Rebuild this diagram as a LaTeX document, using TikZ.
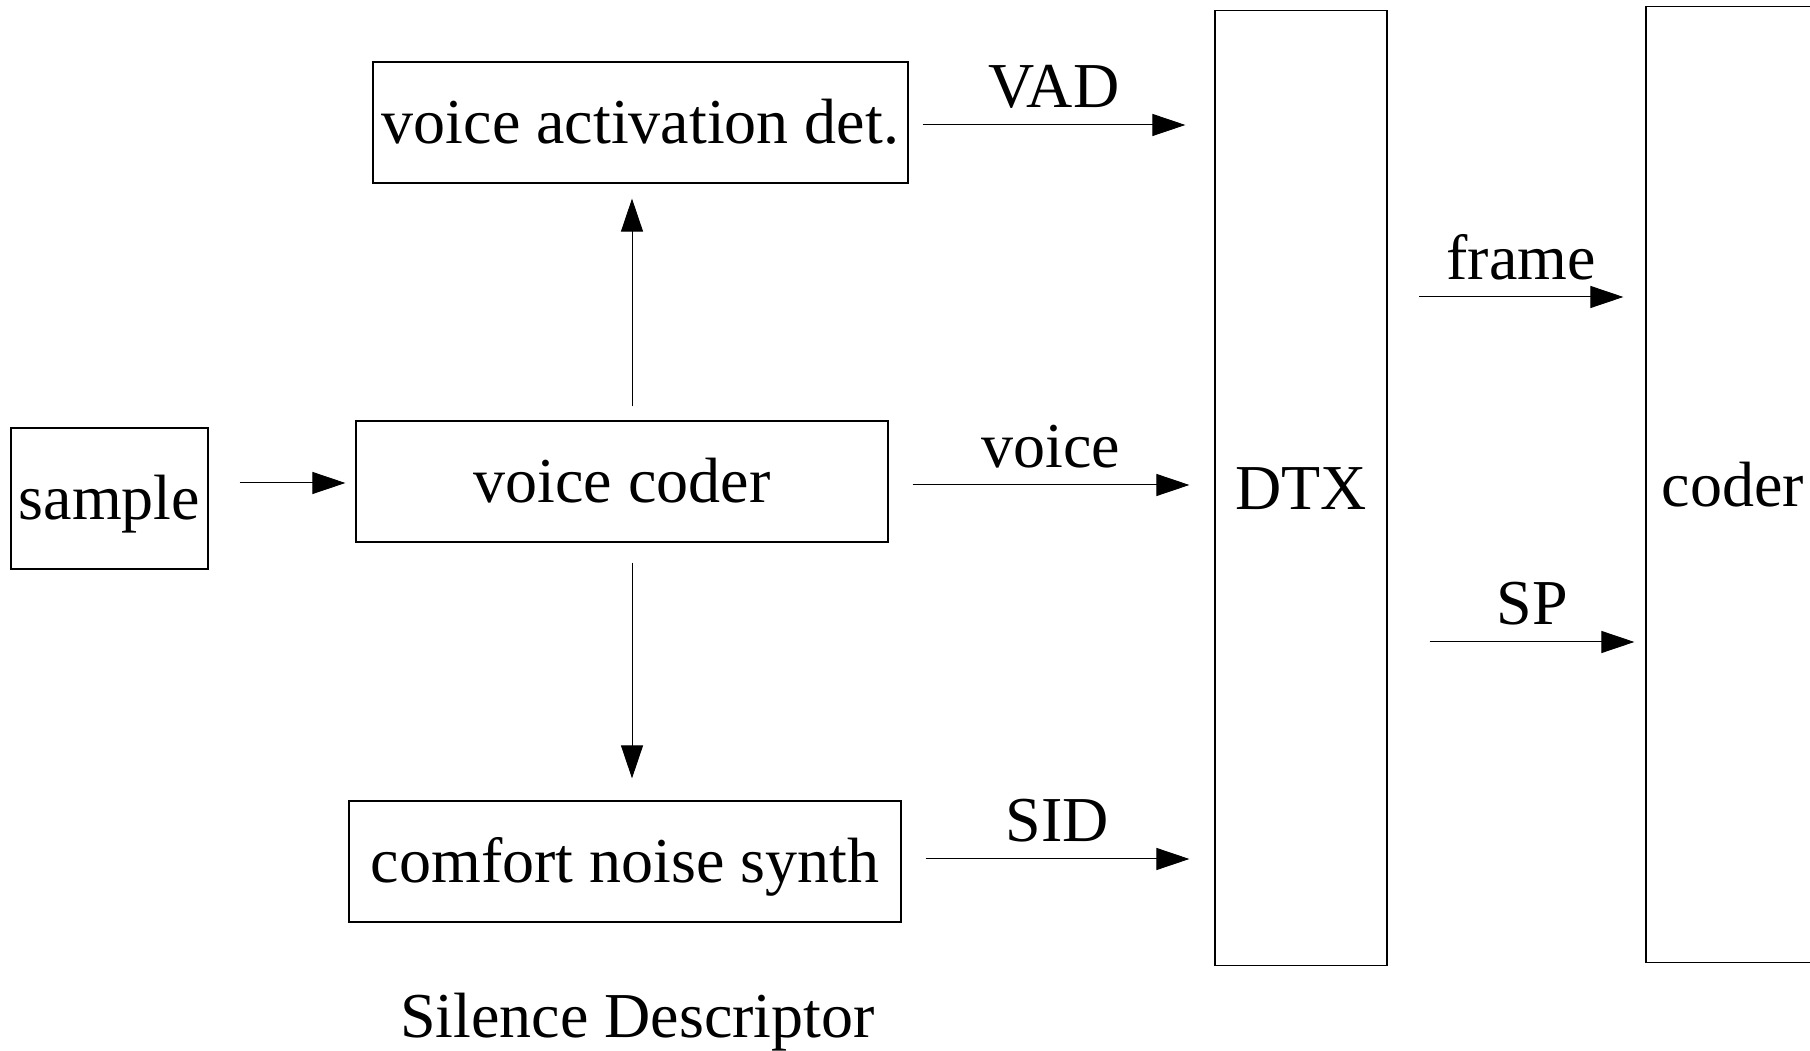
\documentclass[tikz,border=0pt]{standalone}
\usepackage{fontspec}
\setmainfont{Liberation Serif}
\usetikzlibrary{arrows.meta,calc}

\begin{document}
\begin{tikzpicture}[x=1pt,y=1pt,
  blockbox/.style={draw=black, line width=1.2pt, inner sep=0pt,
    text height=50pt, text depth=7pt, align=center},
  arr/.style={draw=black, line width=1pt, -{Triangle[length=33pt,width=22pt]}},
  lbl/.style={anchor=base, inner sep=0pt, yshift=17.5pt},
  every node/.append style={font=\fontsize{64}{70}\selectfont}]

  % page frame; the coder block runs past the right edge
  \clip (0,0) rectangle (1810,1050);

  % blocks
  \node[blockbox, minimum width=197pt, minimum height=141pt] (sample) at (109.5,551.5) {sample};
  \node[blockbox, minimum width=532pt, minimum height=121pt] (vc) at (622,568.5) {voice coder};
  \node[blockbox, minimum width=535pt, minimum height=121pt] (vad) at (640.5,927.5) {voice activation det.};
  \node[blockbox, minimum width=552pt, minimum height=121pt] (cns) at (625,188.5) {comfort noise synth};
  \node[blockbox, minimum width=172pt, minimum height=955pt] (dtx) at (1301,561.7) {DTX};
  \node[blockbox, minimum width=174pt, minimum height=956pt] (coder) at (1733,565.4) {coder};

  % caption under the synthesiser
  \node[anchor=base, inner sep=0pt] (sidnote) at (637.5,13) {Silence Descriptor};

  % connectors
  \draw[arr] ($(sample.east |- vc.west)+(31,-1.5)$) -- ($(vc.west)+(-10,-1.5)$);
  \draw[arr] ($(vc.north)+(10,14)$) -- ($(vad.south -| vc.north)+(10,-15)$);
  \draw[arr] ($(vc.south)+(10,-20)$) -- ($(cns.north -| vc.south)+(10,22)$);

  \draw[arr] ($(vad.east)+(14,-2.5)$) -- node[lbl] (lvad) {VAD} ($(vad.east -| dtx.west)+(-29,-2.5)$);
  \draw[arr] ($(vc.east)+(24,-3.5)$) -- node[lbl] (lvoice) {voice} ($(vc.east -| dtx.west)+(-25,-3.5)$);
  \draw[arr] ($(cns.east)+(24,2.5)$) -- node[lbl] (lsid) {SID} ($(cns.east -| dtx.west)+(-25,2.5)$);

  \draw[arr] ($(dtx.east)+(31.5,191.3)$) -- node[lbl] (lframe) {frame} ($(dtx.east -| coder.west)+(-22,191.3)$);
  \draw[arr] ($(dtx.east)+(42,-153.7)$) -- node[lbl] (lsp) {SP} ($(dtx.east -| coder.west)+(-11,-153.7)$);
\end{tikzpicture}
\end{document}
